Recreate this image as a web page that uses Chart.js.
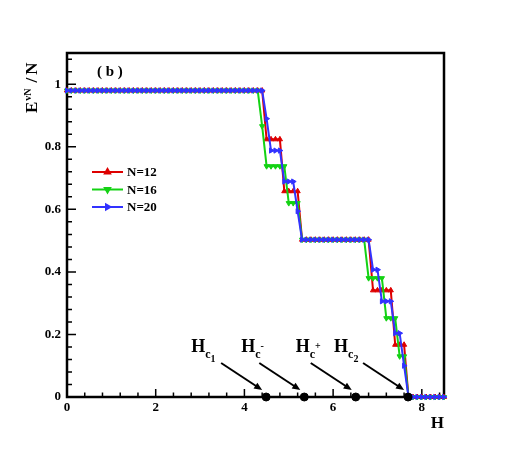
<!DOCTYPE html>
<html>
<head>
<meta charset="utf-8">
<script src="https://cdn.jsdelivr.net/npm/chart.js@4.4.0/dist/chart.umd.min.js"></script>
<style>
  html, body { margin: 0; padding: 0; background: #fff; }
</style>
</head>
<body>
<canvas id="entChart" width="505" height="450"></canvas>
<script>
// field values H (x axis)
const H = [
  0, 0.1, 0.2, 0.3, 0.4, 0.5, 0.6, 0.7, 0.8, 0.9,
  1, 1.1, 1.2, 1.3, 1.4, 1.5, 1.6, 1.7, 1.8, 1.9,
  2, 2.1, 2.2, 2.3, 2.4, 2.5, 2.6, 2.7, 2.8, 2.9,
  3, 3.1, 3.2, 3.3, 3.4, 3.5, 3.6, 3.7, 3.8, 3.9,
  4, 4.1, 4.2, 4.3, 4.4, 4.5, 4.6, 4.7, 4.8, 4.9,
  5, 5.1, 5.2, 5.3, 5.4, 5.5, 5.6, 5.7, 5.8, 5.9,
  6, 6.1, 6.2, 6.3, 6.4, 6.5, 6.6, 6.7, 6.8, 6.9,
  7, 7.1, 7.2, 7.3, 7.4, 7.5, 7.6, 7.7, 7.8, 7.9,
  8, 8.1, 8.2, 8.3, 8.4, 8.5
];

const eN12 = [
  0.98, 0.98, 0.98, 0.98, 0.98, 0.98, 0.98, 0.98, 0.98, 0.98,
  0.98, 0.98, 0.98, 0.98, 0.98, 0.98, 0.98, 0.98, 0.98, 0.98,
  0.98, 0.98, 0.98, 0.98, 0.98, 0.98, 0.98, 0.98, 0.98, 0.98,
  0.98, 0.98, 0.98, 0.98, 0.98, 0.98, 0.98, 0.98, 0.98, 0.98,
  0.98, 0.98, 0.98, 0.98, 0.98, 0.824, 0.824, 0.824, 0.824, 0.658,
  0.658, 0.658, 0.658, 0.503, 0.503, 0.503, 0.503, 0.503, 0.503, 0.503,
  0.503, 0.503, 0.503, 0.503, 0.503, 0.503, 0.503, 0.503, 0.503, 0.341,
  0.341, 0.341, 0.341, 0.341, 0.167, 0.167, 0.167, 0, 0, 0,
  0, 0, 0, 0, 0, 0
];

const eN16 = [
  0.98, 0.98, 0.98, 0.98, 0.98, 0.98, 0.98, 0.98, 0.98, 0.98,
  0.98, 0.98, 0.98, 0.98, 0.98, 0.98, 0.98, 0.98, 0.98, 0.98,
  0.98, 0.98, 0.98, 0.98, 0.98, 0.98, 0.98, 0.98, 0.98, 0.98,
  0.98, 0.98, 0.98, 0.98, 0.98, 0.98, 0.98, 0.98, 0.98, 0.98,
  0.98, 0.98, 0.98, 0.98, 0.866, 0.738, 0.738, 0.738, 0.738, 0.738,
  0.62, 0.62, 0.62, 0.503, 0.503, 0.503, 0.503, 0.503, 0.503, 0.503,
  0.503, 0.503, 0.503, 0.503, 0.503, 0.503, 0.503, 0.503, 0.38, 0.38,
  0.38, 0.38, 0.252, 0.252, 0.252, 0.13, 0.13, 0, 0, 0,
  0, 0, 0, 0, 0, 0
];

const eN20 = [
  0.98, 0.98, 0.98, 0.98, 0.98, 0.98, 0.98, 0.98, 0.98, 0.98,
  0.98, 0.98, 0.98, 0.98, 0.98, 0.98, 0.98, 0.98, 0.98, 0.98,
  0.98, 0.98, 0.98, 0.98, 0.98, 0.98, 0.98, 0.98, 0.98, 0.98,
  0.98, 0.98, 0.98, 0.98, 0.98, 0.98, 0.98, 0.98, 0.98, 0.98,
  0.98, 0.98, 0.98, 0.98, 0.98, 0.89, 0.788, 0.788, 0.788, 0.689,
  0.689, 0.689, 0.594, 0.503, 0.503, 0.503, 0.503, 0.503, 0.503, 0.503,
  0.503, 0.503, 0.503, 0.503, 0.503, 0.503, 0.503, 0.503, 0.503, 0.407,
  0.407, 0.306, 0.306, 0.306, 0.204, 0.204, 0.10, 0, 0, 0,
  0, 0, 0, 0, 0, 0
];

// critical fields marked on the H axis
const critH = [4.49, 5.35, 6.51, 7.69];
const critY = [0, 0, 0, 0];
const critSub = ['1', '', '', '2'];
const critSup = ['', '-', '+', ''];

const xTicks = [0, 2, 4, 6, 8];
const yTicks = [0, 0.2, 0.4, 0.6, 0.8, 1];

const FONT = "'Liberation Serif', 'Times New Roman', serif";

function pts(ys) {
  return H.map((h, i) => ({ x: h, y: ys[i] }));
}

const series = [
  { label: 'N=12', data: eN12, color: 'rgb(222,0,0)', rot: 0, order: 3 },
  { label: 'N=16', data: eN16, color: 'rgb(20,210,20)', rot: 180, order: 2 },
  { label: 'N=20', data: eN20, color: 'rgb(50,50,255)', rot: 90, order: 1 }
];

const datasets = series.map(s => ({
  label: s.label,
  data: pts(s.data),
  borderColor: s.color,
  backgroundColor: s.color,
  borderWidth: 2,
  pointStyle: 'triangle',
  pointRotation: s.rot,
  pointRadius: 3,
  pointBorderWidth: 1,
  tension: 0,
  clip: false,
  order: s.order
}));

datasets.push({
  label: 'crit',
  data: critH.map((h, i) => ({ x: h, y: critY[i] })),
  showLine: false,
  pointStyle: 'circle',
  pointRadius: 4,
  backgroundColor: '#000',
  borderColor: '#000',
  clip: false,
  order: 0
});

// frame + inward ticks, drawn under the data
const framePlugin = {
  id: 'frame',
  beforeDatasetsDraw(chart) {
    const { ctx, chartArea: a, scales: { x, y } } = chart;
    ctx.save();
    ctx.strokeStyle = '#000';
    ctx.lineWidth = 1.5;
    ctx.beginPath();
    for (let k = 0; k <= 21; k++) {
      const px = x.getPixelForValue(k * 0.4);
      const len = k % 5 === 0 ? 8 : 4.5;
      ctx.moveTo(px, a.bottom);
      ctx.lineTo(px, a.bottom - len);
    }
    for (let k = 0; k <= 27; k++) {
      const py = y.getPixelForValue(k * 0.04);
      const len = k % 5 === 0 ? 9 : 5;
      ctx.moveTo(a.left, py);
      ctx.lineTo(a.left + len, py);
    }
    ctx.stroke();
    ctx.lineWidth = 2.5;
    ctx.strokeRect(a.left, a.top, a.right - a.left, a.bottom - a.top);
    ctx.restore();
  },
  afterDraw(chart) {
    const { ctx, scales: { x, y } } = chart;
    ctx.save();
    ctx.fillStyle = '#000';
    ctx.strokeStyle = '#000';
    ctx.textBaseline = 'alphabetic';

    // panel tag
    ctx.font = 'bold 15px ' + FONT;
    ctx.fillText('( b )', 97, 76);

    // x axis title
    ctx.font = 'bold 17px ' + FONT;
    ctx.textAlign = 'right';
    ctx.fillText('H', 444, 428);
    ctx.textAlign = 'left';

    // y axis title, rotated
    ctx.save();
    ctx.translate(37, 113);
    ctx.rotate(-Math.PI / 2);
    ctx.font = 'bold 17px ' + FONT;
    ctx.fillText('E', 0, 0);
    let cx = ctx.measureText('E').width + 1;
    ctx.font = 'bold 10px ' + FONT;
    ctx.fillText('vN', cx, -6);
    cx += ctx.measureText('vN').width + 6;
    ctx.font = 'bold 17px ' + FONT;
    ctx.fillText('/', cx, 0);
    cx += ctx.measureText('/').width + 3;
    ctx.fillText('N', cx, 0);
    ctx.restore();

    // critical field labels and arrows
    const labelDx = [-75, -63, -60, -74];
    ctx.lineWidth = 2;
    critH.forEach((h, i) => {
      const px = x.getPixelForValue(h);
      const py = y.getPixelForValue(critY[i]);
      const x1 = px - 45, y1 = py - 34, x2 = px - 4, y2 = py - 7;
      const ang = Math.atan2(y2 - y1, x2 - x1), L = 8, w = 3.5;
      ctx.beginPath();
      ctx.moveTo(x1, y1);
      ctx.lineTo(x2 - 5 * Math.cos(ang), y2 - 5 * Math.sin(ang));
      ctx.stroke();
      ctx.beginPath();
      ctx.moveTo(x2, y2);
      ctx.lineTo(x2 - L * Math.cos(ang) + w * Math.sin(ang), y2 - L * Math.sin(ang) - w * Math.cos(ang));
      ctx.lineTo(x2 - L * Math.cos(ang) - w * Math.sin(ang), y2 - L * Math.sin(ang) + w * Math.cos(ang));
      ctx.closePath();
      ctx.fill();

      const lx = px + labelDx[i], ly = 352;
      ctx.font = 'bold 18px ' + FONT;
      ctx.fillText('H', lx, ly);
      let tx = lx + ctx.measureText('H').width;
      ctx.font = 'bold 12px ' + FONT;
      ctx.fillText('c', tx, ly + 6);
      tx += ctx.measureText('c').width;
      ctx.font = 'bold 10px ' + FONT;
      if (critSub[i]) ctx.fillText(critSub[i], tx, ly + 10);
      if (critSup[i]) ctx.fillText(critSup[i], tx, ly - 3);
    });

    // legend
    const legY = [172, 189.5, 207];
    series.forEach((s, i) => {
      const ly = legY[i];
      ctx.strokeStyle = s.color;
      ctx.fillStyle = s.color;
      ctx.lineWidth = 2;
      ctx.beginPath();
      ctx.moveTo(92, ly);
      ctx.lineTo(123, ly);
      ctx.stroke();
      Chart.helpers.drawPoint(ctx, { pointStyle: 'triangle', radius: 3, rotation: s.rot, borderWidth: 1 }, 107.5, ly);
      ctx.fillStyle = '#000';
      ctx.font = 'bold 13px ' + FONT;
      ctx.fillText(s.label, 127, ly + 4);
    });
    ctx.restore();
  }
};

const tickFont = { family: FONT, size: 13, weight: 'bold' };

new Chart(document.getElementById('entChart'), {
  type: 'line',
  data: { datasets: datasets },
  options: {
    responsive: false,
    animation: false,
    layout: { padding: { left: 0, right: 61, top: 53, bottom: 0 } },
    plugins: { legend: { display: false }, tooltip: { enabled: false } },
    scales: {
      x: {
        type: 'linear', min: 0, max: 8.5,
        grid: { display: false, drawTicks: false },
        border: { display: false },
        afterBuildTicks: s => { s.ticks = xTicks.map(v => ({ value: v })); },
        ticks: { color: '#000', font: tickFont, padding: 3, maxRotation: 0, callback: v => String(v) },
        afterFit: s => { s.height = 53; }
      },
      y: {
        type: 'linear', min: 0, max: 1.1,
        grid: { display: false, drawTicks: false },
        border: { display: false },
        afterBuildTicks: s => { s.ticks = yTicks.map(v => ({ value: v })); },
        ticks: { color: '#000', font: tickFont, padding: 6, callback: v => String(Math.round(v * 10) / 10) },
        afterFit: s => { s.width = 67; }
      }
    }
  },
  plugins: [framePlugin]
});
</script>
</body>
</html>
